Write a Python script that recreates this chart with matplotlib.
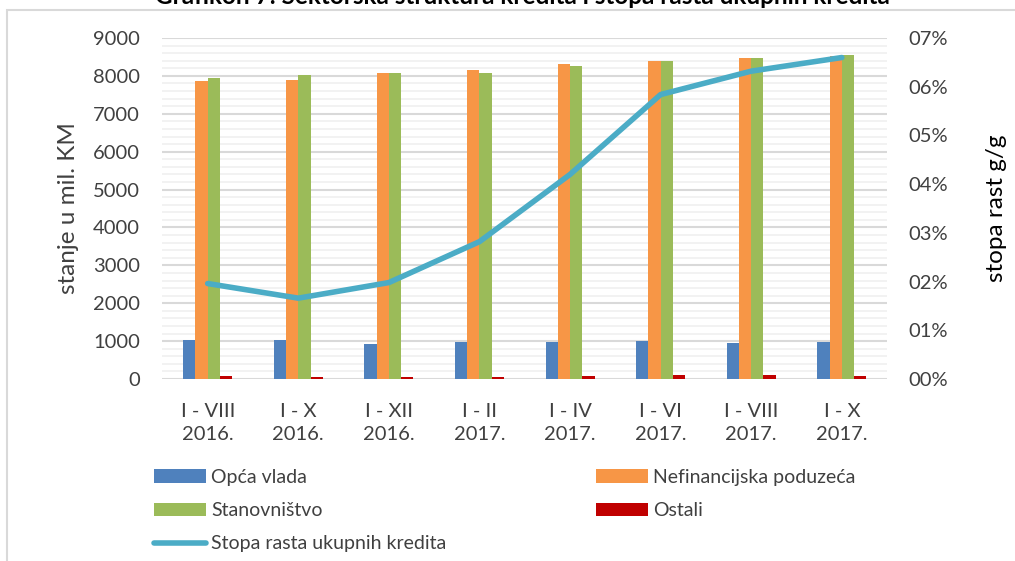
import matplotlib
matplotlib.use("Agg")
import matplotlib.pyplot as plt
from matplotlib.patches import Rectangle
from matplotlib.ticker import FuncFormatter, MultipleLocator
import numpy as np

plt.rcParams['font.family'] = ['Lato', 'DejaVu Sans']

periods = ['I - VIII\n2016.', 'I - X\n2016.', 'I - XII\n2016.', 'I - II\n2017.',
           'I - IV\n2017.', 'I - VI\n2017.', 'I - VIII\n2017.', 'I - X\n2017.']
opca_vlada = [1035, 1025, 930, 980, 975, 995, 945, 965]
nefinancijska = [7865, 7900, 8075, 8145, 8310, 8405, 8460, 8520]
stanovnistvo = [7945, 8020, 8075, 8090, 8260, 8390, 8480, 8565]
ostali = [75, 60, 65, 65, 70, 100, 95, 85]
stopa_rasta = [0.0196, 0.0166, 0.0198, 0.0282, 0.0420, 0.0584, 0.0632, 0.0660]

colors = ['#4F81BD', '#F79646', '#9BBB59', '#C00000']
line_color = '#4BACC6'
text_color = '#404040'

fig = plt.figure(figsize=(10.15, 5.61), dpi=100)
ax = fig.add_axes([0.160, 0.3244, 0.714, 0.6078])
ax2 = ax.twinx()

x = np.arange(len(periods))
w = 0.135
series = [opca_vlada, nefinancijska, stanovnistvo, ostali]
names = ['Opća vlada', 'Nefinancijska poduzeća', 'Stanovništvo', 'Ostali']
bars = []
for i, (vals, c, n) in enumerate(zip(series, colors, names)):
    b = ax.bar(x + (i - 1.5) * w, vals, w, color=c, label=n, zorder=3)
    bars.append(b)

line, = ax2.plot(x, stopa_rasta, color=line_color, lw=4, solid_capstyle='round',
                 label='Stopa rasta ukupnih kredita', zorder=4)

ax.set_xlim(-0.5, len(periods) - 0.5)
ax.set_ylim(0, 9000)
ax.yaxis.set_major_locator(MultipleLocator(1000))
ax.yaxis.set_minor_locator(MultipleLocator(200))
ax.grid(which='major', axis='y', color='#D9D9D9', lw=1.5, zorder=0)
ax.grid(which='minor', axis='y', color='#F0F0F0', lw=1.2, zorder=0)
ax.set_axisbelow(True)

ax2.set_ylim(0, 0.07)
ax2.yaxis.set_major_locator(MultipleLocator(0.01))
ax2.yaxis.set_major_formatter(FuncFormatter(lambda v, p: '{:02.0f}%'.format(v * 100)))

for a in (ax, ax2):
    for s in a.spines.values():
        s.set_visible(False)
ax.tick_params(axis='both', which='both', length=0, labelsize=14.5, colors=text_color)
ax.tick_params(axis='y', pad=16)
ax2.tick_params(axis='y', length=0, labelsize=14.5, colors=text_color, pad=15)
ax.tick_params(axis='x', pad=17)
ax.set_xticks(x)
ax.set_xticklabels(periods, linespacing=1.45)

ax.set_ylabel('stanje u mil. KM', fontsize=17.5, color=text_color, labelpad=10)
ax2.set_ylabel('stopa rast g/g', fontsize=17.5, color='black', labelpad=28)

fig.text(0.515, 1 - 4 / 561, 'Grafikon 7: Sektorska struktura kredita i stopa rasta ukupnih kredita',
         ha='center', va='baseline', fontsize=17.5, fontweight='bold', color='black')

fig.patches.append(Rectangle((7 / 1015, -0.1), 1.2, 1.1 - 10 / 561, transform=fig.transFigure,
                             fill=False, edgecolor='#D9D9D9', lw=1.5))

handles = [bars[0], bars[2], line, bars[1], bars[3]]
labels = [h.get_label() for h in handles]
fig.legend(handles, labels, ncol=2, loc='upper left', bbox_to_anchor=(146 / 1015, 1 - 461 / 561),
           frameon=False, fontsize=14, labelcolor=text_color, handlelength=2.68,
           handletextpad=0.26, columnspacing=7.7, labelspacing=0.84, borderaxespad=0)

fig.savefig('out.png', dpi=100)
